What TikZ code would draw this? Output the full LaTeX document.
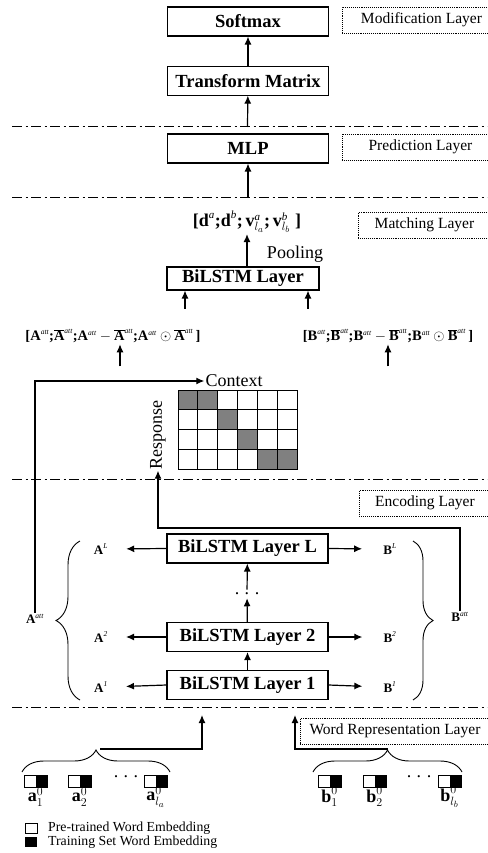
\documentclass[tikz,border=0pt]{standalone}
\usepackage{fontspec}
\setmainfont{Liberation Serif}
\usepackage{tikz}
\usetikzlibrary{positioning, arrows.meta, decorations.pathreplacing}
\tikzset{flecha/.style={line width=1.2pt, -{Latex[length=8pt,width=7pt]}}}
\tikzset{caja/.style={draw, line width=1.1pt, minimum width=161pt, minimum height=29pt, inner sep=0pt, font=\fontsize{18.5}{20}\selectfont\bfseries}}
\tikzset{capa/.style={draw, densely dotted, line width=0.9pt, minimum height=26pt, anchor=west, inner sep=0pt, font=\fontsize{15.5}{17}\selectfont}}
\tikzset{sep/.style={line width=1pt, dash pattern=on 10pt off 3.5pt on 2pt off 3.5pt}}
\tikzset{llave/.style={line width=0.9pt, decorate, decoration={brace, amplitude=#1}}}
\tikzset{chico/.style={font=\fontsize{13}{14}\selectfont}}
\tikzset{expr/.style={font=\fontsize{14.5}{15}\selectfont}}
\tikzset{palabra/.style={font=\fontsize{18}{19}\selectfont}}
\newcommand{\vb}[1]{\textbf{#1}}
\newcommand{\arriba}[1]{^{\textit{\fontsize{7.5}{8}\selectfont #1}}}
\newcommand{\arribag}[1]{^{\textit{\fontsize{11}{12}\selectfont #1}}}
\newcommand{\att}{\arriba{att}}
\newcommand{\puntos}{.\hspace{5.5pt}.\hspace{5.5pt}.}
\newcommand{\emb}[1]{\fill (#1) ++(11.5,0) rectangle ++(11.5,12); \draw[line width=0.9pt] (#1) rectangle ++(23,12);}

\begin{document}
\begin{tikzpicture}[
                x=1pt, y=-1pt,
                every node/.style={inner sep=1pt}
            ]
                \useasboundingbox (0,0) rectangle (487,853);
                \foreach \y in {127,197,479,707} \draw[sep] (12,\y) -- (487,\y);

                \node[caja](1) at (248,21.5) {Softmax};
                \node[caja, below=29pt of 1] (2) {Transform Matrix};
                \node[caja] (3) at (248,148.5) {MLP};
                \node[caja, minimum width=152pt, minimum height=23pt] (4) at (243,278.5) {BiLSTM Layer};
                \node[caja] (5) at (247.5,548.5) {BiLSTM Layer L};
                \node[caja] (6) at (247.5,637) {BiLSTM Layer 2};
                \node[caja] (7) at (247.5,685) {BiLSTM Layer 1};

                \node[capa, minimum width=158pt] (m1) at (342,20) {Modification Layer};
                \node[capa, minimum width=156pt] (m2) at (342,147) {Prediction Layer};
                \node[capa, minimum width=132pt] (m3) at (358,225) {Matching Layer};
                \node[capa, minimum width=131pt] (m4) at (359,503) {Encoding Layer};
                \node[capa, minimum width=189pt] (m5) at (300,731) {Word Representation Layer};

                \draw[flecha] (2) -- (1);
                \coordinate (s1) at (247.5,127);
                \coordinate (s2) at (248,197);
                \draw[flecha] (s1) -- (2);
                \draw[flecha] (s2) -- (3);

                \node[palabra] (8) at (247,222) {$\vb{[d}\arribag{a}\vb{;d}\arribag{b}\vb{;}\,\vb{v}\arribag{a}_{l_a}\vb{;}\,\vb{v}\arribag{b}_{l_b}\;\vb{]}$};
                \draw[flecha] (8 |- 4.north) -- (8);
                \node[font=\fontsize{18}{19}\selectfont] at (295,254) {Pooling};

                \node[expr] (9) at (113,336) {$\vb{[A}\att\vb{;}\overline{\vb{A}}\att\vb{;A}\att-\overline{\vb{A}}\att\vb{;A}\att\odot\overline{\vb{A}}\att\,\vb{]}$};
                \node[expr] (10) at (388,336) {$\vb{[B}\att\vb{;}\overline{\vb{B}}\att\vb{;B}\att-\overline{\vb{B}}\att\vb{;B}\att\odot\overline{\vb{B}}\att\,\vb{]}$};
                \draw[flecha] ([xshift=-58pt,yshift=-18pt]4.south) -- ([xshift=-58pt]4.south);
                \draw[flecha] ([xshift=65pt,yshift=-18pt]4.south) -- ([xshift=65pt]4.south);
                \draw[flecha] ([xshift=7pt,yshift=-22pt]9.south) -- ([xshift=7pt]9.south);
                \draw[flecha] ([yshift=-22pt]10.south) -- (10.south);

                \foreach \i/\j in {0/0,1/0,2/1,3/2,4/3,5/3}
                    \fill[gray] (178+\i*19.83,390+\j*19.75) rectangle ++(19.83,19.75);
                \foreach \i in {0,...,5}
                    \foreach \j in {0,...,3}
                        \draw[line width=0.9pt] (178+\i*19.83,390+\j*19.75) rectangle ++(19.83,19.75);
                \node[font=\fontsize{18}{19}\selectfont] (11) at (234,381) {Context};
                \node[font=\fontsize{18}{19}\selectfont, rotate=90] (12) at (158,435) {Response};

                \node[chico] (13) at (35,619) {$\vb{A}\att$};
                \node[chico] (14) at (460,617) {$\vb{B}\att$};
                \draw[flecha] (13.north) |- (11.west);
                \draw[flecha] (14.north) -- ++(0,-83) -| (12.west);

                \node[chico] (15) at (101,549) {$\vb{A}\arriba{L}$};
                \node[chico] (16) at (101,637) {$\vb{A}\arriba{2}$};
                \node[chico] (17) at (101,687) {$\vb{A}\arriba{1}$};
                \node[chico] (18) at (390,549) {$\vb{B}\arriba{L}$};
                \node[chico] (20) at (390,637) {$\vb{B}\arriba{2}$};
                \node[chico] (21) at (390,687) {$\vb{B}\arriba{1}$};
                \draw[flecha, shorten >=17pt] (5.west) -- (15.east);
                \draw[flecha, shorten >=17pt] (6.west) -- (16.east);
                \draw[flecha, shorten >=17pt] (7.west) -- (17.east);
                \draw[flecha, shorten >=20pt] (5.east) -- (18.west);
                \draw[flecha, shorten >=20pt] (6.east) -- (20.west);
                \draw[flecha, shorten >=20pt] (7.east) -- (21.west);

                \node[palabra, inner sep=3pt] (19) at (247,594) {\puntos};
                \draw[flecha] (7) -- (6);
                \draw[flecha] (6) -- (19);
                \draw[flecha] (19) -- (5);

                \draw[llave=24pt] (80,700) -- (80,541);
                \draw[llave=20pt] (413,541) -- (413,700);
                \draw[llave=22pt] (22,772) -- (170,772);
                \draw[llave=22pt] (313,772) -- (462,772);

                \coordinate (la) at (100,749);
                \coordinate (ea) at (202,715);
                \coordinate (rb) at (388,749);
                \coordinate (eb) at (295,715);
                \draw[flecha] (la) -| (ea);
                \draw[flecha] (rb) -| (eb);

                \emb{24,775} \emb{68,775} \emb{144,775}
                \emb{318,775} \emb{363,775} \emb{438,775}
                \node[palabra] at (126,777) {\puntos};
                \node[palabra] at (419,777) {\puntos};
                \node[palabra] at (35.5,797) {$\vb{a}^{0}_{1}$};
                \node[palabra] at (79.5,797) {$\vb{a}^{0}_{2}$};
                \node[palabra] at (155.5,797) {$\vb{a}^{0}_{l_a}$};
                \node[palabra] at (329.5,797) {$\vb{b}^{0}_{1}$};
                \node[palabra] at (374.5,797) {$\vb{b}^{0}_{2}$};
                \node[palabra] at (449.5,797) {$\vb{b}^{0}_{l_b}$};

                \draw[line width=0.9pt] (25,823) rectangle (37,833);
                \fill (25,837) rectangle (37,847);
                \node[anchor=west, font=\fontsize{13.8}{15}\selectfont] at (47,828) {Pre-trained Word Embedding};
                \node[anchor=west, font=\fontsize{13.8}{15}\selectfont] at (47,842) {Training Set Word Embedding};
            \end{tikzpicture}
\end{document}
